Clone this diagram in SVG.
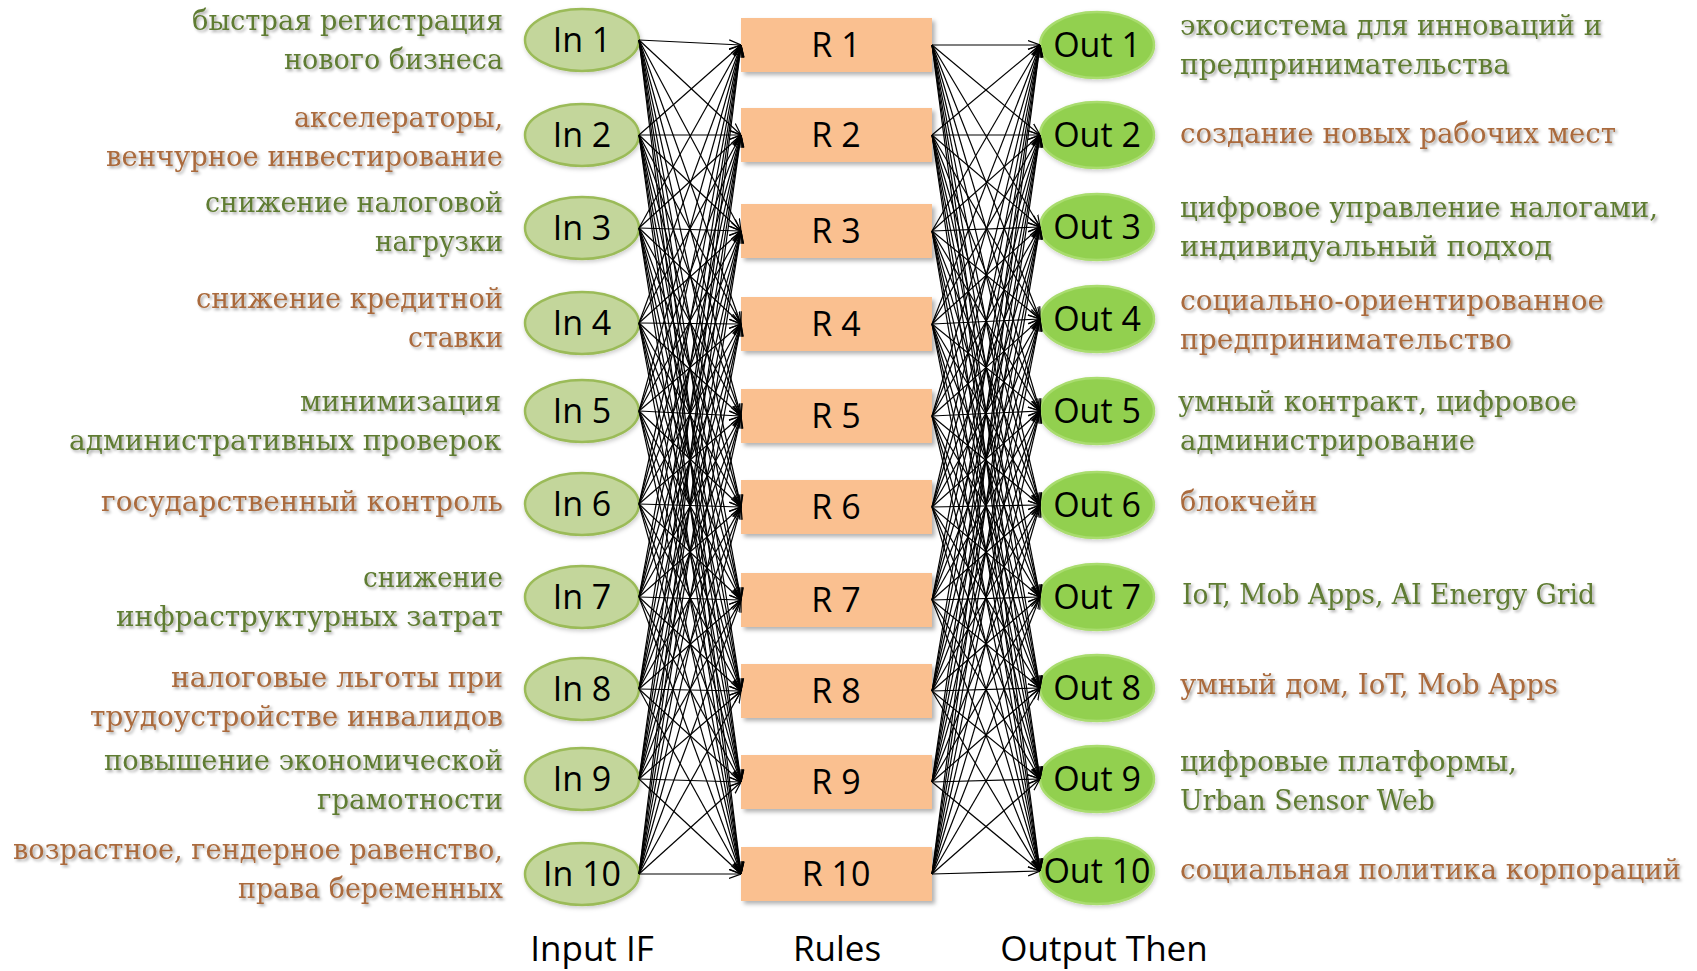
<svg xmlns="http://www.w3.org/2000/svg" width="1697" height="971" viewBox="0 0 1697 971">
<defs>
<style>
.inN{fill:#c3d69b;stroke:#9bbb59;stroke-width:2.5}
.outN{fill:#92d050;stroke:#a9dc6e;stroke-width:2.5}
.rule{fill:#fac090}
.nl{font-family:"Open Sans","Liberation Sans",sans-serif;font-size:34px;fill:#000;text-anchor:middle}
.ax{font-family:"Open Sans","Liberation Sans",sans-serif;font-size:35px;fill:#000;text-anchor:middle}
.d{font-family:"DejaVu Serif","Liberation Serif",serif;font-size:27px}
.l{text-anchor:end}
.gr{fill:#5f7b32}
.br{fill:#aa6a3c}
</style>
<filter id="ts" x="-5%" y="-30%" width="110%" height="160%"><feDropShadow dx="2" dy="2" stdDeviation="1.5" flood-color="#000" flood-opacity="0.35"/></filter>
<filter id="bs" x="-10%" y="-20%" width="120%" height="150%"><feDropShadow dx="3" dy="3" stdDeviation="2" flood-color="#000" flood-opacity="0.3"/></filter>
<filter id="ns" x="-20%" y="-20%" width="140%" height="150%"><feDropShadow dx="1" dy="2" stdDeviation="2" flood-color="#000" flood-opacity="0.2"/></filter>
<marker id="ah" viewBox="0 0 12 12" refX="12" refY="6" markerWidth="12" markerHeight="12" markerUnits="userSpaceOnUse" orient="auto"><path d="M0,1.5 L12,6 L0,10.5" fill="none" stroke="#000" stroke-width="1.2"/></marker>
</defs>
<rect width="1697" height="971" fill="#fff"/>

<g id="in1"><ellipse class="inN" filter="url(#ns)" cx="582" cy="40" rx="57" ry="31"/><text class="nl" x="582" y="52">In 1</text>
<g class="d l gr" filter="url(#ts)"><text x="503" y="30" textLength="311" lengthAdjust="spacingAndGlyphs">быстрая регистрация</text><text x="503" y="69" textLength="219" lengthAdjust="spacingAndGlyphs">нового бизнеса</text></g></g>
<g id="in2"><ellipse class="inN" filter="url(#ns)" cx="582" cy="135" rx="57" ry="31"/><text class="nl" x="582" y="147">In 2</text>
<g class="d l br" filter="url(#ts)"><text x="503" y="127" textLength="209" lengthAdjust="spacingAndGlyphs">акселераторы,</text><text x="503" y="166" textLength="397" lengthAdjust="spacingAndGlyphs">венчурное инвестирование</text></g></g>
<g id="in3"><ellipse class="inN" filter="url(#ns)" cx="582" cy="228" rx="57" ry="31"/><text class="nl" x="582" y="240">In 3</text>
<g class="d l gr" filter="url(#ts)"><text x="503" y="212" textLength="298" lengthAdjust="spacingAndGlyphs">снижение налоговой</text><text x="503" y="251" textLength="128" lengthAdjust="spacingAndGlyphs">нагрузки</text></g></g>
<g id="in4"><ellipse class="inN" filter="url(#ns)" cx="582" cy="323" rx="57" ry="31"/><text class="nl" x="582" y="335">In 4</text>
<g class="d l br" filter="url(#ts)"><text x="503" y="308" textLength="307" lengthAdjust="spacingAndGlyphs">снижение кредитной</text><text x="503" y="347" textLength="95" lengthAdjust="spacingAndGlyphs">ставки</text></g></g>
<g id="in5"><ellipse class="inN" filter="url(#ns)" cx="582" cy="411" rx="57" ry="31"/><text class="nl" x="582" y="423">In 5</text>
<g class="d l gr" filter="url(#ts)"><text x="501" y="411" textLength="201" lengthAdjust="spacingAndGlyphs">минимизация</text><text x="501" y="450" textLength="432" lengthAdjust="spacingAndGlyphs">административных проверок</text></g></g>
<g id="in6"><ellipse class="inN" filter="url(#ns)" cx="582" cy="504" rx="57" ry="31"/><text class="nl" x="582" y="516">In 6</text>
<g class="d l br" filter="url(#ts)"><text x="503" y="511" textLength="402" lengthAdjust="spacingAndGlyphs">государственный контроль</text></g></g>
<g id="in7"><ellipse class="inN" filter="url(#ns)" cx="582" cy="597" rx="57" ry="31"/><text class="nl" x="582" y="609">In 7</text>
<g class="d l gr" filter="url(#ts)"><text x="503" y="587" textLength="140" lengthAdjust="spacingAndGlyphs">снижение</text><text x="503" y="626" textLength="387" lengthAdjust="spacingAndGlyphs">инфраструктурных затрат</text></g></g>
<g id="in8"><ellipse class="inN" filter="url(#ns)" cx="582" cy="689" rx="57" ry="31"/><text class="nl" x="582" y="701">In 8</text>
<g class="d l br" filter="url(#ts)"><text x="503" y="687" textLength="332" lengthAdjust="spacingAndGlyphs">налоговые льготы при</text><text x="503" y="726" textLength="413" lengthAdjust="spacingAndGlyphs">трудоустройстве инвалидов</text></g></g>
<g id="in9"><ellipse class="inN" filter="url(#ns)" cx="582" cy="779" rx="57" ry="31"/><text class="nl" x="582" y="791">In 9</text>
<g class="d l gr" filter="url(#ts)"><text x="503" y="770" textLength="399" lengthAdjust="spacingAndGlyphs">повышение экономической</text><text x="503" y="809" textLength="186" lengthAdjust="spacingAndGlyphs">грамотности</text></g></g>
<g id="in10"><ellipse class="inN" filter="url(#ns)" cx="582" cy="874" rx="57" ry="31"/><text class="nl" x="582" y="886">In 10</text>
<g class="d l br" filter="url(#ts)"><text x="503" y="859" textLength="490" lengthAdjust="spacingAndGlyphs">возрастное, гендерное равенство,</text><text x="503" y="898" textLength="265" lengthAdjust="spacingAndGlyphs">права беременных</text></g></g>

<g id="r1"><rect class="rule" filter="url(#bs)" x="741" y="18" width="191" height="54"/><text class="nl" x="836" y="57">R 1</text></g>
<g id="r2"><rect class="rule" filter="url(#bs)" x="741" y="108" width="191" height="54"/><text class="nl" x="836" y="147">R 2</text></g>
<g id="r3"><rect class="rule" filter="url(#bs)" x="741" y="204" width="191" height="54"/><text class="nl" x="836" y="243">R 3</text></g>
<g id="r4"><rect class="rule" filter="url(#bs)" x="741" y="297" width="191" height="54"/><text class="nl" x="836" y="336">R 4</text></g>
<g id="r5"><rect class="rule" filter="url(#bs)" x="741" y="389" width="191" height="54"/><text class="nl" x="836" y="428">R 5</text></g>
<g id="r6"><rect class="rule" filter="url(#bs)" x="741" y="480" width="191" height="54"/><text class="nl" x="836" y="519">R 6</text></g>
<g id="r7"><rect class="rule" filter="url(#bs)" x="741" y="573" width="191" height="54"/><text class="nl" x="836" y="612">R 7</text></g>
<g id="r8"><rect class="rule" filter="url(#bs)" x="741" y="664" width="191" height="54"/><text class="nl" x="836" y="703">R 8</text></g>
<g id="r9"><rect class="rule" filter="url(#bs)" x="741" y="755" width="191" height="54"/><text class="nl" x="836" y="794">R 9</text></g>
<g id="r10"><rect class="rule" filter="url(#bs)" x="741" y="847" width="191" height="54"/><text class="nl" x="836" y="886">R 10</text></g>

<g id="out1"><ellipse class="outN" filter="url(#ns)" cx="1097" cy="45" rx="57" ry="33"/><text class="nl" x="1097" y="57">Out 1</text>
<g class="d gr" filter="url(#ts)"><text x="1180" y="35" textLength="422" lengthAdjust="spacingAndGlyphs">экосистема для инноваций и</text><text x="1180" y="74" textLength="330" lengthAdjust="spacingAndGlyphs">предпринимательства</text></g></g>
<g id="out2"><ellipse class="outN" filter="url(#ns)" cx="1097" cy="135" rx="57" ry="33"/><text class="nl" x="1097" y="147">Out 2</text>
<g class="d br" filter="url(#ts)"><text x="1180" y="143" textLength="436" lengthAdjust="spacingAndGlyphs">создание новых рабочих мест</text></g></g>
<g id="out3"><ellipse class="outN" filter="url(#ns)" cx="1097" cy="227" rx="57" ry="33"/><text class="nl" x="1097" y="239">Out 3</text>
<g class="d gr" filter="url(#ts)"><text x="1180" y="217" textLength="478" lengthAdjust="spacingAndGlyphs">цифровое управление налогами,</text><text x="1180" y="256" textLength="372" lengthAdjust="spacingAndGlyphs">индивидуальный подход</text></g></g>
<g id="out4"><ellipse class="outN" filter="url(#ns)" cx="1097" cy="319" rx="57" ry="33"/><text class="nl" x="1097" y="331">Out 4</text>
<g class="d br" filter="url(#ts)"><text x="1180" y="310" textLength="424" lengthAdjust="spacingAndGlyphs">социально-ориентированное</text><text x="1180" y="349" textLength="332" lengthAdjust="spacingAndGlyphs">предпринимательство</text></g></g>
<g id="out5"><ellipse class="outN" filter="url(#ns)" cx="1097" cy="411" rx="57" ry="33"/><text class="nl" x="1097" y="423">Out 5</text>
<g class="d gr" filter="url(#ts)"><text x="1178" y="411" textLength="399" lengthAdjust="spacingAndGlyphs">умный контракт, цифровое</text><text x="1180" y="450" textLength="295" lengthAdjust="spacingAndGlyphs">администрирование</text></g></g>
<g id="out6"><ellipse class="outN" filter="url(#ns)" cx="1097" cy="505" rx="57" ry="33"/><text class="nl" x="1097" y="517">Out 6</text>
<g class="d br" filter="url(#ts)"><text x="1180" y="511" textLength="137" lengthAdjust="spacingAndGlyphs">блокчейн</text></g></g>
<g id="out7"><ellipse class="outN" filter="url(#ns)" cx="1097" cy="597" rx="57" ry="33"/><text class="nl" x="1097" y="609">Out 7</text>
<g class="d gr" filter="url(#ts)"><text x="1182" y="604" textLength="413" lengthAdjust="spacingAndGlyphs">IoT, Mob Apps, AI Energy Grid</text></g></g>
<g id="out8"><ellipse class="outN" filter="url(#ns)" cx="1097" cy="688" rx="57" ry="33"/><text class="nl" x="1097" y="700">Out 8</text>
<g class="d br" filter="url(#ts)"><text x="1180" y="694" textLength="378" lengthAdjust="spacingAndGlyphs">умный дом, IoT, Mob Apps</text></g></g>
<g id="out9"><ellipse class="outN" filter="url(#ns)" cx="1097" cy="779" rx="57" ry="33"/><text class="nl" x="1097" y="791">Out 9</text>
<g class="d gr" filter="url(#ts)"><text x="1180" y="771" textLength="337" lengthAdjust="spacingAndGlyphs">цифровые платформы,</text><text x="1180" y="810" textLength="255" lengthAdjust="spacingAndGlyphs">Urban Sensor Web</text></g></g>
<g id="out10"><ellipse class="outN" filter="url(#ns)" cx="1097" cy="871" rx="57" ry="33"/><text class="nl" x="1097" y="883">Out 10</text>
<g class="d br" filter="url(#ts)"><text x="1180" y="879" textLength="501" lengthAdjust="spacingAndGlyphs">социальная политика корпораций</text></g></g>

<g id="axis-labels"><text class="ax" x="592" y="961">Input IF</text><text class="ax" x="837" y="961">Rules</text><text class="ax" x="1104" y="961">Output Then</text></g>

<g id="connectors" stroke="#000" stroke-width="1.2" fill="none" marker-end="url(#ah)">
<line x1="639" y1="40" x2="741" y2="45"/><line x1="639" y1="40" x2="741" y2="135"/><line x1="639" y1="40" x2="741" y2="231"/><line x1="639" y1="40" x2="741" y2="324"/><line x1="639" y1="40" x2="741" y2="416"/><line x1="639" y1="40" x2="741" y2="507"/><line x1="639" y1="40" x2="741" y2="600"/><line x1="639" y1="40" x2="741" y2="691"/><line x1="639" y1="40" x2="741" y2="782"/><line x1="639" y1="40" x2="741" y2="874"/>
<line x1="639" y1="135" x2="741" y2="45"/><line x1="639" y1="135" x2="741" y2="135"/><line x1="639" y1="135" x2="741" y2="231"/><line x1="639" y1="135" x2="741" y2="324"/><line x1="639" y1="135" x2="741" y2="416"/><line x1="639" y1="135" x2="741" y2="507"/><line x1="639" y1="135" x2="741" y2="600"/><line x1="639" y1="135" x2="741" y2="691"/><line x1="639" y1="135" x2="741" y2="782"/><line x1="639" y1="135" x2="741" y2="874"/>
<line x1="639" y1="228" x2="741" y2="45"/><line x1="639" y1="228" x2="741" y2="135"/><line x1="639" y1="228" x2="741" y2="231"/><line x1="639" y1="228" x2="741" y2="324"/><line x1="639" y1="228" x2="741" y2="416"/><line x1="639" y1="228" x2="741" y2="507"/><line x1="639" y1="228" x2="741" y2="600"/><line x1="639" y1="228" x2="741" y2="691"/><line x1="639" y1="228" x2="741" y2="782"/><line x1="639" y1="228" x2="741" y2="874"/>
<line x1="639" y1="323" x2="741" y2="45"/><line x1="639" y1="323" x2="741" y2="135"/><line x1="639" y1="323" x2="741" y2="231"/><line x1="639" y1="323" x2="741" y2="324"/><line x1="639" y1="323" x2="741" y2="416"/><line x1="639" y1="323" x2="741" y2="507"/><line x1="639" y1="323" x2="741" y2="600"/><line x1="639" y1="323" x2="741" y2="691"/><line x1="639" y1="323" x2="741" y2="782"/><line x1="639" y1="323" x2="741" y2="874"/>
<line x1="639" y1="411" x2="741" y2="45"/><line x1="639" y1="411" x2="741" y2="135"/><line x1="639" y1="411" x2="741" y2="231"/><line x1="639" y1="411" x2="741" y2="324"/><line x1="639" y1="411" x2="741" y2="416"/><line x1="639" y1="411" x2="741" y2="507"/><line x1="639" y1="411" x2="741" y2="600"/><line x1="639" y1="411" x2="741" y2="691"/><line x1="639" y1="411" x2="741" y2="782"/><line x1="639" y1="411" x2="741" y2="874"/>
<line x1="639" y1="504" x2="741" y2="45"/><line x1="639" y1="504" x2="741" y2="135"/><line x1="639" y1="504" x2="741" y2="231"/><line x1="639" y1="504" x2="741" y2="324"/><line x1="639" y1="504" x2="741" y2="416"/><line x1="639" y1="504" x2="741" y2="507"/><line x1="639" y1="504" x2="741" y2="600"/><line x1="639" y1="504" x2="741" y2="691"/><line x1="639" y1="504" x2="741" y2="782"/><line x1="639" y1="504" x2="741" y2="874"/>
<line x1="639" y1="597" x2="741" y2="45"/><line x1="639" y1="597" x2="741" y2="135"/><line x1="639" y1="597" x2="741" y2="231"/><line x1="639" y1="597" x2="741" y2="324"/><line x1="639" y1="597" x2="741" y2="416"/><line x1="639" y1="597" x2="741" y2="507"/><line x1="639" y1="597" x2="741" y2="600"/><line x1="639" y1="597" x2="741" y2="691"/><line x1="639" y1="597" x2="741" y2="782"/><line x1="639" y1="597" x2="741" y2="874"/>
<line x1="639" y1="689" x2="741" y2="45"/><line x1="639" y1="689" x2="741" y2="135"/><line x1="639" y1="689" x2="741" y2="231"/><line x1="639" y1="689" x2="741" y2="324"/><line x1="639" y1="689" x2="741" y2="416"/><line x1="639" y1="689" x2="741" y2="507"/><line x1="639" y1="689" x2="741" y2="600"/><line x1="639" y1="689" x2="741" y2="691"/><line x1="639" y1="689" x2="741" y2="782"/><line x1="639" y1="689" x2="741" y2="874"/>
<line x1="639" y1="779" x2="741" y2="45"/><line x1="639" y1="779" x2="741" y2="135"/><line x1="639" y1="779" x2="741" y2="231"/><line x1="639" y1="779" x2="741" y2="324"/><line x1="639" y1="779" x2="741" y2="416"/><line x1="639" y1="779" x2="741" y2="507"/><line x1="639" y1="779" x2="741" y2="600"/><line x1="639" y1="779" x2="741" y2="691"/><line x1="639" y1="779" x2="741" y2="782"/><line x1="639" y1="779" x2="741" y2="874"/>
<line x1="639" y1="874" x2="741" y2="45"/><line x1="639" y1="874" x2="741" y2="135"/><line x1="639" y1="874" x2="741" y2="231"/><line x1="639" y1="874" x2="741" y2="324"/><line x1="639" y1="874" x2="741" y2="416"/><line x1="639" y1="874" x2="741" y2="507"/><line x1="639" y1="874" x2="741" y2="600"/><line x1="639" y1="874" x2="741" y2="691"/><line x1="639" y1="874" x2="741" y2="782"/><line x1="639" y1="874" x2="741" y2="874"/>
<line x1="932" y1="45" x2="1040" y2="45"/><line x1="932" y1="45" x2="1040" y2="135"/><line x1="932" y1="45" x2="1040" y2="227"/><line x1="932" y1="45" x2="1040" y2="319"/><line x1="932" y1="45" x2="1040" y2="411"/><line x1="932" y1="45" x2="1040" y2="505"/><line x1="932" y1="45" x2="1040" y2="597"/><line x1="932" y1="45" x2="1040" y2="688"/><line x1="932" y1="45" x2="1040" y2="779"/><line x1="932" y1="45" x2="1040" y2="871"/>
<line x1="932" y1="135" x2="1040" y2="45"/><line x1="932" y1="135" x2="1040" y2="135"/><line x1="932" y1="135" x2="1040" y2="227"/><line x1="932" y1="135" x2="1040" y2="319"/><line x1="932" y1="135" x2="1040" y2="411"/><line x1="932" y1="135" x2="1040" y2="505"/><line x1="932" y1="135" x2="1040" y2="597"/><line x1="932" y1="135" x2="1040" y2="688"/><line x1="932" y1="135" x2="1040" y2="779"/><line x1="932" y1="135" x2="1040" y2="871"/>
<line x1="932" y1="231" x2="1040" y2="45"/><line x1="932" y1="231" x2="1040" y2="135"/><line x1="932" y1="231" x2="1040" y2="227"/><line x1="932" y1="231" x2="1040" y2="319"/><line x1="932" y1="231" x2="1040" y2="411"/><line x1="932" y1="231" x2="1040" y2="505"/><line x1="932" y1="231" x2="1040" y2="597"/><line x1="932" y1="231" x2="1040" y2="688"/><line x1="932" y1="231" x2="1040" y2="779"/><line x1="932" y1="231" x2="1040" y2="871"/>
<line x1="932" y1="324" x2="1040" y2="45"/><line x1="932" y1="324" x2="1040" y2="135"/><line x1="932" y1="324" x2="1040" y2="227"/><line x1="932" y1="324" x2="1040" y2="319"/><line x1="932" y1="324" x2="1040" y2="411"/><line x1="932" y1="324" x2="1040" y2="505"/><line x1="932" y1="324" x2="1040" y2="597"/><line x1="932" y1="324" x2="1040" y2="688"/><line x1="932" y1="324" x2="1040" y2="779"/><line x1="932" y1="324" x2="1040" y2="871"/>
<line x1="932" y1="416" x2="1040" y2="45"/><line x1="932" y1="416" x2="1040" y2="135"/><line x1="932" y1="416" x2="1040" y2="227"/><line x1="932" y1="416" x2="1040" y2="319"/><line x1="932" y1="416" x2="1040" y2="411"/><line x1="932" y1="416" x2="1040" y2="505"/><line x1="932" y1="416" x2="1040" y2="597"/><line x1="932" y1="416" x2="1040" y2="688"/><line x1="932" y1="416" x2="1040" y2="779"/><line x1="932" y1="416" x2="1040" y2="871"/>
<line x1="932" y1="507" x2="1040" y2="45"/><line x1="932" y1="507" x2="1040" y2="135"/><line x1="932" y1="507" x2="1040" y2="227"/><line x1="932" y1="507" x2="1040" y2="319"/><line x1="932" y1="507" x2="1040" y2="411"/><line x1="932" y1="507" x2="1040" y2="505"/><line x1="932" y1="507" x2="1040" y2="597"/><line x1="932" y1="507" x2="1040" y2="688"/><line x1="932" y1="507" x2="1040" y2="779"/><line x1="932" y1="507" x2="1040" y2="871"/>
<line x1="932" y1="600" x2="1040" y2="45"/><line x1="932" y1="600" x2="1040" y2="135"/><line x1="932" y1="600" x2="1040" y2="227"/><line x1="932" y1="600" x2="1040" y2="319"/><line x1="932" y1="600" x2="1040" y2="411"/><line x1="932" y1="600" x2="1040" y2="505"/><line x1="932" y1="600" x2="1040" y2="597"/><line x1="932" y1="600" x2="1040" y2="688"/><line x1="932" y1="600" x2="1040" y2="779"/><line x1="932" y1="600" x2="1040" y2="871"/>
<line x1="932" y1="691" x2="1040" y2="45"/><line x1="932" y1="691" x2="1040" y2="135"/><line x1="932" y1="691" x2="1040" y2="227"/><line x1="932" y1="691" x2="1040" y2="319"/><line x1="932" y1="691" x2="1040" y2="411"/><line x1="932" y1="691" x2="1040" y2="505"/><line x1="932" y1="691" x2="1040" y2="597"/><line x1="932" y1="691" x2="1040" y2="688"/><line x1="932" y1="691" x2="1040" y2="779"/><line x1="932" y1="691" x2="1040" y2="871"/>
<line x1="932" y1="782" x2="1040" y2="45"/><line x1="932" y1="782" x2="1040" y2="135"/><line x1="932" y1="782" x2="1040" y2="227"/><line x1="932" y1="782" x2="1040" y2="319"/><line x1="932" y1="782" x2="1040" y2="411"/><line x1="932" y1="782" x2="1040" y2="505"/><line x1="932" y1="782" x2="1040" y2="597"/><line x1="932" y1="782" x2="1040" y2="688"/><line x1="932" y1="782" x2="1040" y2="779"/><line x1="932" y1="782" x2="1040" y2="871"/>
<line x1="932" y1="874" x2="1040" y2="45"/><line x1="932" y1="874" x2="1040" y2="135"/><line x1="932" y1="874" x2="1040" y2="227"/><line x1="932" y1="874" x2="1040" y2="319"/><line x1="932" y1="874" x2="1040" y2="411"/><line x1="932" y1="874" x2="1040" y2="505"/><line x1="932" y1="874" x2="1040" y2="597"/><line x1="932" y1="874" x2="1040" y2="688"/><line x1="932" y1="874" x2="1040" y2="779"/><line x1="932" y1="874" x2="1040" y2="871"/>
</g>
</svg>
